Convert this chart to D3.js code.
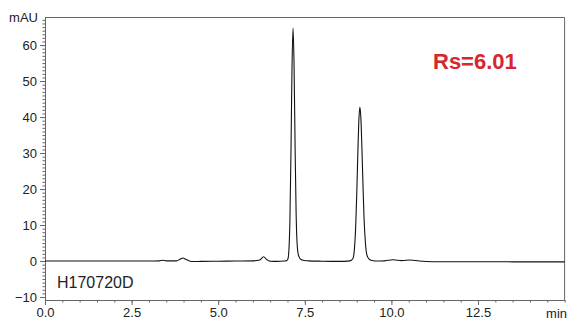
<!DOCTYPE html>
<html>
<head>
<meta charset="utf-8">
<script src="https://cdn.jsdelivr.net/npm/d3@7"></script>
<style>
  body { margin: 0; background: #fff; }
  svg { display: block; font-family: "Liberation Sans", Arial, sans-serif; }
  .axis path, .axis line { stroke: #666; }
  .axis text { fill: #222; font-size: 13px; }
</style>
</head>
<body>
<div id="chart"><svg></svg></div>
<script>
// retention time (min) and absorbance (mAU)
const times = [
  0, 1.0, 2.0, 3.0, 3.30, 3.40, 3.50, 3.80, 3.90, 3.98, 4.06, 4.15, 4.30, 4.50, 5.0, 5.5,
  6.0, 6.20, 6.31, 6.40, 6.50, 6.70, 6.90,
  6.96, 7.01, 7.04, 7.07, 7.10, 7.13, 7.16, 7.19, 7.22, 7.25, 7.28, 7.32, 7.38, 7.48,
  7.60, 8.0, 8.5,
  8.80, 8.89, 8.93, 8.97, 9.00, 9.03, 9.06, 9.09, 9.12, 9.15, 9.18, 9.21, 9.25, 9.29,
  9.35, 9.44, 9.6, 9.8, 10.05, 10.3, 10.54, 10.8, 11.2, 12, 13, 14, 15
];
const signal = [
  0, 0, 0, 0, 0.05, 0.2, 0.05, 0.05, 0.5, 0.85, 0.5, 0.1, -0.15, -0.1, -0.05, 0,
  0.05, 0.3, 1.2, 0.4, -0.05, -0.1, 0,
  0.05, 0.5, 2.85, 11.1, 29.6, 53.2, 64.7, 54.5, 31.5, 13, 4.5, 1.5, 0.5, 0.15,
  0.05, -0.05, -0.1,
  0.05, 0.72, 3.1, 9.8, 18.7, 29.6, 39.0, 42.8, 39.5, 31, 21, 12, 5, 1.8,
  0.6, 0.15, 0, 0.05, 0.35, 0.1, 0.3, 0, -0.2, -0.2, -0.2, -0.25, -0.25
];
const xTicks = [0, 2.5, 5, 7.5, 10, 12.5];
const yTicks = [-10, 0, 10, 20, 30, 40, 50, 60];
const sampleName = 'H170720D';
const resolution = 'Rs=6.01';

const width = 570, height = 320;
const svg = d3.select('#chart').select('svg').attr('width', width).attr('height', height);

const x = d3.scaleLinear().domain([0, 15]).range([45, 564.6]);
const y = d3.scaleLinear().domain([-10.83, 67.8]).range([300, 17]);

// frame (top, right)
svg.append('path')
  .attr('d', `M${x(0)},${y.range()[1] + 0.5}H${x(15)}V${y.range()[0]}`)
  .attr('fill', 'none').attr('stroke', '#666');

// minor ticks
const gyMinor = svg.append('g').attr('class', 'axis')
  .attr('transform', `translate(${x(0)},0)`)
  .call(d3.axisLeft(y).tickValues(d3.range(-10, 68, 1)).tickSize(2.5).tickFormat(''));
gyMinor.select('.domain').remove();
const gxMinor = svg.append('g').attr('class', 'axis')
  .attr('transform', `translate(0,${y.range()[0]})`)
  .call(d3.axisBottom(x).tickValues(d3.range(0, 15.01, 0.5)).tickSize(2.5).tickFormat(''));
gxMinor.select('.domain').remove();

// major axes
const gy = svg.append('g').attr('class', 'axis')
  .attr('transform', `translate(${x(0)},0)`)
  .call(d3.axisLeft(y).tickValues(yTicks).tickSize(5).tickSizeOuter(0).tickPadding(3));
const gx = svg.append('g').attr('class', 'axis')
  .attr('transform', `translate(0,${y.range()[0]})`)
  .call(d3.axisBottom(x).tickValues(xTicks).tickSize(5).tickSizeOuter(0).tickPadding(3).tickFormat(d3.format('.1f')));

svg.append('text').attr('x', 38).attr('y', 22).attr('text-anchor', 'end')
  .attr('font-size', 13).attr('fill', '#222').text('mAU');
svg.append('text').attr('x', 567).attr('y', 318).attr('text-anchor', 'end')
  .attr('font-size', 13).attr('fill', '#222').text('min');

// trace
const line = d3.line().x(d => x(d[0])).y(d => y(d[1])).curve(d3.curveMonotoneX);
svg.append('path')
  .datum(times.map((t, i) => [t, signal[i]]))
  .attr('d', line)
  .attr('fill', 'none').attr('stroke', '#111').attr('stroke-width', 1.1);

svg.append('text').attr('x', 57).attr('y', 288)
  .attr('font-size', 16).attr('fill', '#222').text(sampleName);
svg.append('text').attr('x', 433).attr('y', 69)
  .attr('font-size', 22).attr('font-weight', 'bold').attr('fill', '#d7262e').text(resolution);
</script>
</body>
</html>
